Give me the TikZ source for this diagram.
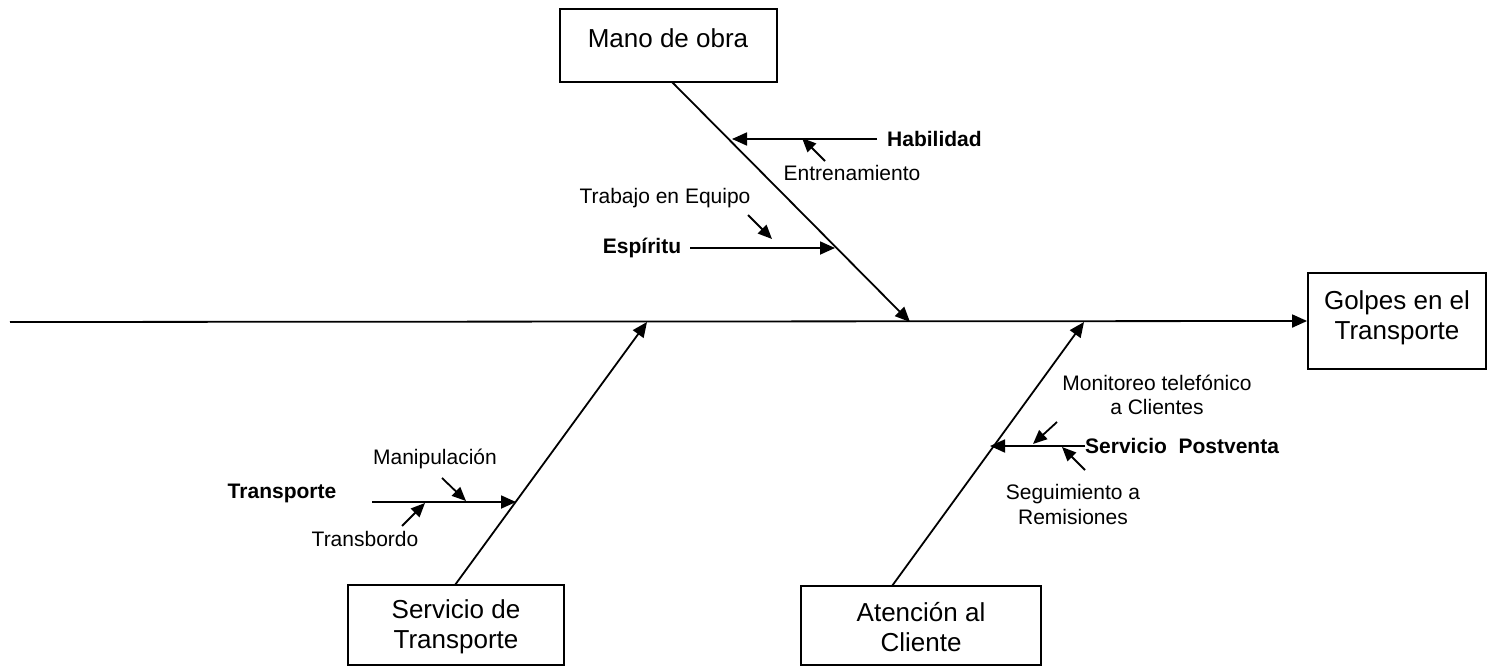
\documentclass[tikz,border=0pt]{standalone}
\usepackage{fontspec}
\setmainfont{Liberation Sans}
\usetikzlibrary{arrows.meta}
\tikzset{
  x=1pt, y=-1pt,
  frame/.style={draw, line width=1.8pt, inner sep=0pt},
  bigtxt/.style={inner sep=0pt, align=center, font=\fontsize{26}{30}\selectfont},
  smalltxt/.style={inner sep=0pt, align=center, font=\fontsize{21}{24.5}\selectfont},
  boldtxt/.style={inner sep=0pt, font=\fontsize{21}{24.5}\selectfont\bfseries},
  arr/.style={line width=1.8pt, -{Triangle[length=15pt,width=13pt]}},
  sarr/.style={line width=1.8pt, -{Triangle[length=14pt,width=12pt]}}
}
\begin{document}
\begin{tikzpicture}
\useasboundingbox (0,0) rectangle (1488,666);
% boxes
\node[frame, minimum width=217pt, minimum height=73pt] (mano) at (668.5,45.5) {};
\node[bigtxt] (manot) at (668,38) {Mano de obra};
\node[frame, minimum width=178pt, minimum height=96pt] (golpes) at (1397,321) {};
\node[bigtxt] (golpest) at (1397,318) {Golpes en el\\Transporte};
\node[frame, minimum width=216pt, minimum height=80pt] (serv) at (456,625) {};
\node[bigtxt] (servt) at (456,627) {Servicio de\\Transporte};
\node[frame, minimum width=240pt, minimum height=79pt] (aten) at (921,625.5) {};
\node[bigtxt] (atent) at (921,627) {Atenci\'on al\\Cliente};
% spine
\coordinate (spL) at (10,322);
\draw[arr] (spL) -- (golpes.west);
% bones
\coordinate (m0) at (672,82);
\coordinate (m1) at (910,322);
\draw[arr] (m0) -- (m1);
\coordinate (s0) at (455,585);
\coordinate (s1) at (647,322);
\draw[arr] (s0) -- (s1);
\coordinate (a0) at (892,586);
\coordinate (a1) at (1084,322);
\draw[arr] (a0) -- (a1);
% Mano de obra branches
\node[boldtxt, anchor=west] (hab) at (887,139) {Habilidad};
\coordinate (habB) at (732,139);
\draw[arr] (hab.west) ++(-10,0) coordinate (habS) (habS) -- (habB);
\node[smalltxt] (entr) at (852,173) {Entrenamiento};
\coordinate (entrS) at (825,161);
\coordinate (entrE) at (802,138);
\draw[sarr] (entrS) -- (entrE);
\node[smalltxt] (trab) at (665,198) {Trabajo en Equipo};
\coordinate (trabS) at (748,215);
\coordinate (trabE) at (772,239);
\draw[sarr] (trabS) -- (trabE);
\node[boldtxt] (esp) at (642,248) {Esp\'iritu};
\coordinate (espS) at (690,248);
\coordinate (espB) at (835,248);
\draw[arr] (espS) -- (espB);
% Servicio de Transporte branches
\node[boldtxt] (trp) at (282,493) {Transporte};
\coordinate (trpS) at (372,502);
\coordinate (trpB) at (516,502);
\draw[arr] (trpS) -- (trpB);
\node[smalltxt] (manip) at (435,459) {Manipulaci\'on};
\coordinate (manS) at (442,478);
\coordinate (manE) at (466,501);
\draw[sarr] (manS) -- (manE);
\node[smalltxt] (trb) at (365,539) {Transbordo};
\coordinate (trbS) at (402,526);
\coordinate (trbE) at (425,503);
\draw[sarr] (trbS) -- (trbE);
% Atencion al Cliente branches
\node[boldtxt, anchor=west] (post) at (1085,446) {Servicio\ \ Postventa};
\coordinate (postB) at (990,446);
\draw[arr] (post.west) -- (postB);
\node[smalltxt] (mon) at (1157,395) {Monitoreo telef\'onico\\a Clientes};
\coordinate (monS) at (1057,422);
\coordinate (monE) at (1033,444);
\draw[sarr] (monS) -- (monE);
\node[smalltxt] (seg) at (1073,504.5) {Seguimiento a\\Remisiones};
\coordinate (segS) at (1085,470);
\coordinate (segE) at (1062,447);
\draw[sarr] (segS) -- (segE);
\end{tikzpicture}
\end{document}
